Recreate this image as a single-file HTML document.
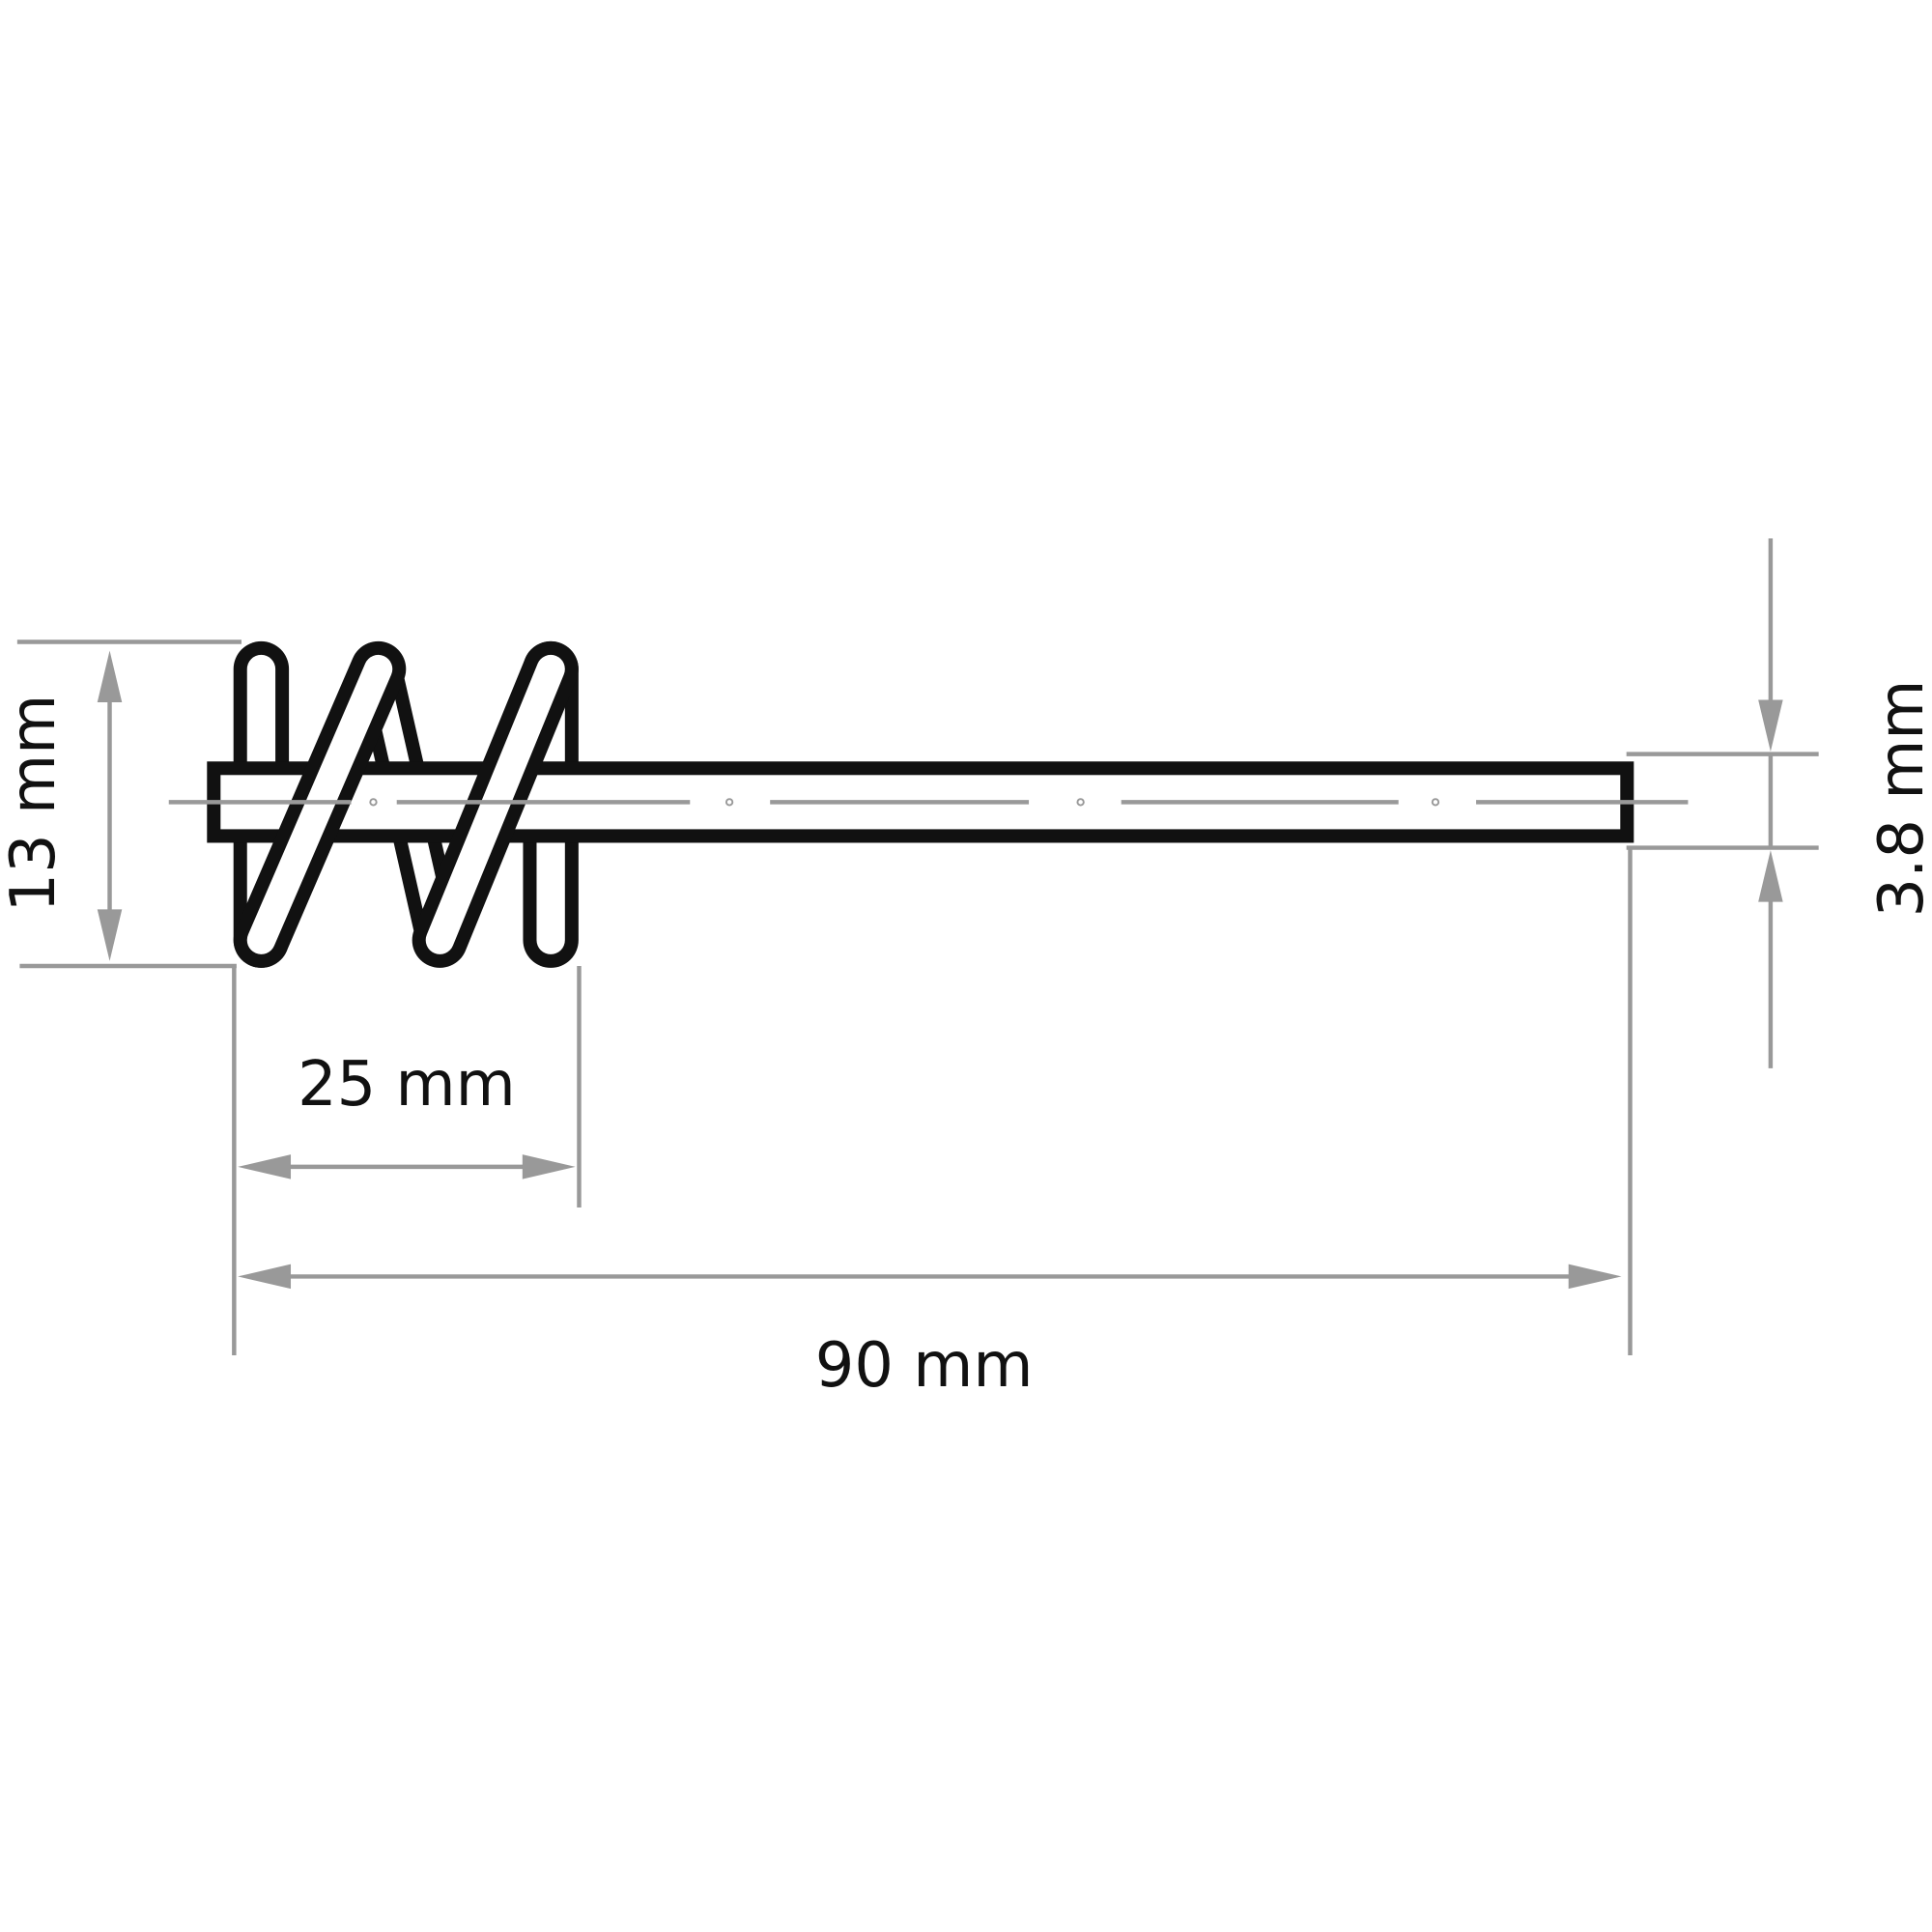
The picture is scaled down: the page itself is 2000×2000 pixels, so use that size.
<!DOCTYPE html>
<html><head><meta charset="utf-8"><style>html,body{margin:0;padding:0;background:#fff}svg{display:block}</style></head>
<body>
<svg width="2000" height="2000" viewBox="0 0 1568 1568" xmlns="http://www.w3.org/2000/svg">
<rect width="1568" height="1568" fill="#fff"/>
<g stroke="#999" stroke-width="3.5" fill="none">
<line x1="14" y1="521" x2="196" y2="521"/>
<line x1="16" y1="784" x2="192" y2="784"/>
<line x1="89" y1="560" x2="89" y2="750"/>
<line x1="190" y1="784" x2="190" y2="1100"/>
<line x1="470" y1="784" x2="470" y2="980"/>
<line x1="1323" y1="688" x2="1323" y2="1100"/>
<line x1="220" y1="947" x2="440" y2="947"/>
<line x1="220" y1="1036" x2="1290" y2="1036"/>
<line x1="1320" y1="612" x2="1476" y2="612"/>
<line x1="1320" y1="688" x2="1476" y2="688"/>
<line x1="1437" y1="437" x2="1437" y2="580"/>
<line x1="1437" y1="612" x2="1437" y2="688"/>
<line x1="1437" y1="720" x2="1437" y2="867"/>
</g>
<g fill="#999">
<polygon points="89,528 79,570 99,570"/>
<polygon points="89,780 79,738 99,738"/>
<polygon points="193,947 236,937 236,957"/>
<polygon points="467,947 424,937 424,957"/>
<polygon points="193,1036 236,1026 236,1046"/>
<polygon points="1316,1036 1273,1026 1273,1046"/>
<polygon points="1437,610 1427,568 1447,568"/>
<polygon points="1437,690 1427,732 1447,732"/>
</g>
<g stroke-linecap="round">
<line x1="307" y1="543" x2="357" y2="763" stroke="#111" stroke-width="38"/>
<line x1="307" y1="543" x2="357" y2="763" stroke="#fff" stroke-width="16"/>
<line x1="212" y1="543" x2="212" y2="763" stroke="#111" stroke-width="45"/>
<line x1="212" y1="543" x2="212" y2="763" stroke="#fff" stroke-width="23"/>
<line x1="447" y1="543" x2="447" y2="763" stroke="#111" stroke-width="45"/>
<line x1="447" y1="543" x2="447" y2="763" stroke="#fff" stroke-width="23"/>
</g>
<rect x="173.5" y="623.5" width="1147" height="55" fill="#fff" stroke="#111" stroke-width="11"/>
<g stroke-linecap="round">
<line x1="212" y1="763" x2="307" y2="543" stroke="#111" stroke-width="45"/>
<line x1="212" y1="763" x2="307" y2="543" stroke="#fff" stroke-width="23"/>
<line x1="357" y1="763" x2="447" y2="543" stroke="#111" stroke-width="45"/>
<line x1="357" y1="763" x2="447" y2="543" stroke="#fff" stroke-width="23"/>
</g>
<g stroke="#999" stroke-width="3.5" fill="none">
<line x1="137" y1="651" x2="285" y2="651"/>
<line x1="322" y1="651" x2="560" y2="651"/>
<line x1="625" y1="651" x2="835" y2="651"/>
<line x1="910" y1="651" x2="1135" y2="651"/>
<line x1="1198" y1="651" x2="1370" y2="651"/>
<circle cx="303" cy="651" r="2.5" stroke-width="1.5"/>
<circle cx="592" cy="651" r="2.5" stroke-width="1.5"/>
<circle cx="877" cy="651" r="2.5" stroke-width="1.5"/>
<circle cx="1165" cy="651" r="2.5" stroke-width="1.5"/>
</g>
<g font-family="'DejaVu Sans','Liberation Sans',sans-serif" font-size="50" fill="#111" text-anchor="middle">
<text x="330" y="897">25 mm</text>
<text x="750" y="1125">90 mm</text>
<text transform="translate(44,652) rotate(-90)">13 mm</text>
<text transform="translate(1560,648) rotate(-90)">3.8 mm</text>
</g>
</svg>
</body></html>
